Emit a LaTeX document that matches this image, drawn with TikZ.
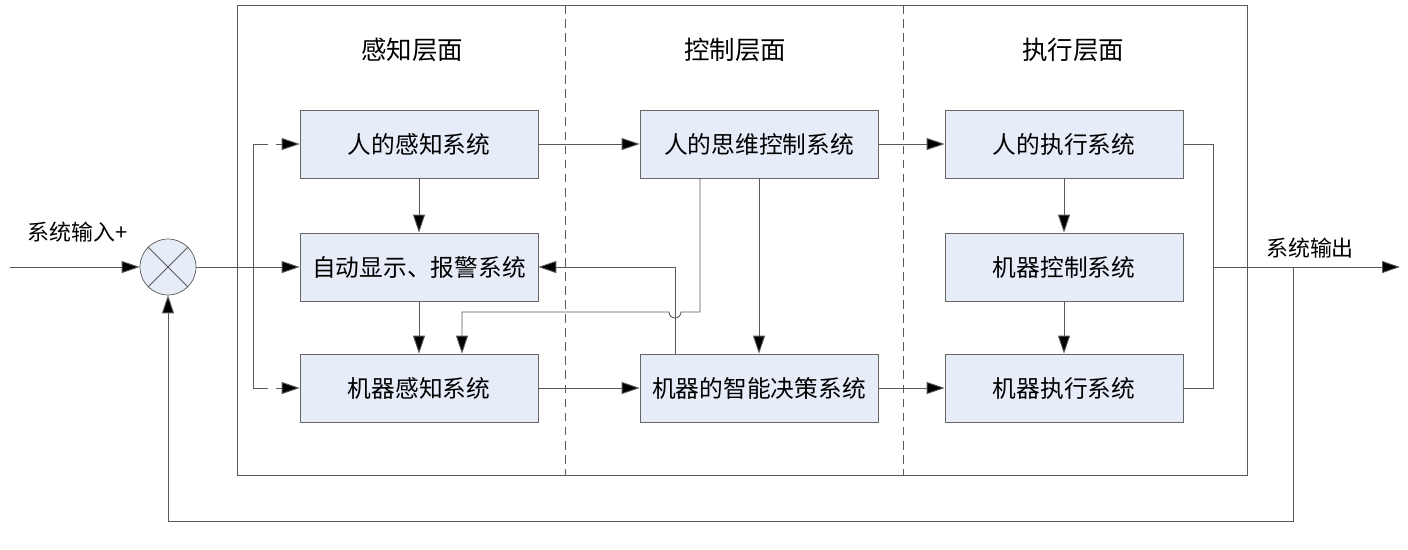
\documentclass[tikz,border=0pt]{standalone}
\usepackage{fontspec}
\setmainfont{Noto Sans CJK SC}
\usetikzlibrary{arrows.meta,positioning,calc}

\definecolor{blkfill}{RGB}{230,237,248}

\begin{document}
\begin{tikzpicture}[
    x=0.02cm, y=-0.02cm,
    blk/.style={rectangle, draw=black!60, fill=blkfill, minimum width=4.76cm, minimum height=1.36cm, font=\fontsize{13.5}{15}\selectfont},
    ttl/.style={font=\fontsize{14.5}{16}\selectfont},
    lbl/.style={font=\fontsize{12.5}{14}\selectfont},
    arr/.style={-{Triangle[length=3.6mm, width=2.4mm, fill=black]}, black!65, line width=0.5pt},
    ln/.style={black!65, line width=0.5pt},
]
    \useasboundingbox (0,0) rectangle (1408,549);
    % frame and layers
    \draw[ln] (237,5) rectangle (1247,475);
    \draw[ln, dash pattern=on 5pt off 3pt] (565,5) -- (565,475);
    \draw[ln, dash pattern=on 5pt off 3pt] (903,5) -- (903,475);
    \node[ttl] (tPer) at (412,50) {感知层面};
    \node[ttl] (tCtl) at (735,50) {控制层面};
    \node[ttl] (tExe) at (1073,50) {执行层面};

    % blocks
    \node[blk] (hPer) at (419,144) {人的感知系统};
    \node[blk] (disp) at (419,267) {自动显示、报警系统};
    \node[blk] (mPer) at (419,388) {机器感知系统};
    \node[blk] (hCtl) at (759,144) {人的思维控制系统};
    \node[blk] (mDec) at (759,388) {机器的智能决策系统};
    \node[blk] (hExe) at (1064,144) {人的执行系统};
    \node[blk] (mCtl) at (1064,267) {机器控制系统};
    \node[blk] (mExe) at (1064,388) {机器执行系统};

    % summing junction
    \node[circle, draw=black!65, fill=blkfill, minimum size=1.12cm] (sum) at (168,267) {};
    \draw[ln] (sum.north west) -- (sum.south east);
    \draw[ln] (sum.north east) -- (sum.south west);

    \coordinate (in) at (10,267);
    \coordinate (out) at (1400,267);
    \node[lbl] (inLbl) at (78,232) {系统输入+};
    \node[lbl] (outLbl) at (1310,248) {系统输出};

    % perception layer
    \draw[arr] (in) -- (sum);
    \draw[arr] (sum) -- (disp);
    \draw[ln] (253,144) -- (253,388);
    \draw[ln] (253,144) -- (268,144);
    \draw[ln] (253,388) -- (268,388);
    \draw[arr] (276,144) -- (hPer);
    \draw[arr] (276,388) -- (mPer);
    \draw[arr] (hPer) -- (disp);
    \draw[arr] (disp) -- (mPer);

    % control layer
    \draw[arr] (hPer) -- (hCtl);
    \draw[arr] (mPer) -- (mDec);
    \draw[arr] (hCtl) -- (mDec);
    \draw[arr] (mDec.north -| 675,0) -- (675,267) -- (disp);
    \draw[arr] (hCtl.south -| 700,0) -- (700,312) -- (681,312) arc (0:180:6) -- (462,312) -- (mPer.north -| 462,0);

    % execution layer
    \draw[arr] (hCtl) -- (hExe);
    \draw[arr] (mDec) -- (mExe);
    \draw[arr] (hExe) -- (mCtl);
    \draw[arr] (mCtl) -- (mExe);
    \draw[ln] (hExe.east) -- (1213,144) -- (1213,388) -- (mExe.east);
    \draw[arr] (1213,267) -- (out);

    % feedback
    \draw[arr] (1293,267) -- (1293,521) -- (168,521) -- (sum);
\end{tikzpicture}
\end{document}
